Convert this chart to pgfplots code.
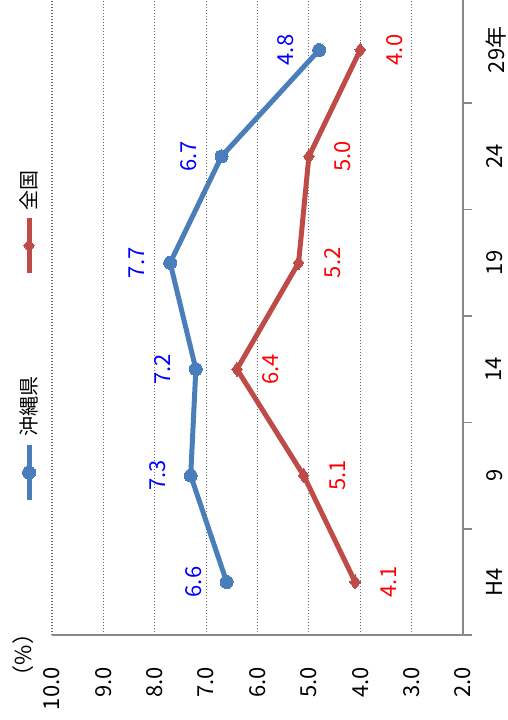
\documentclass[border=0pt]{standalone}
\usepackage{fontspec}
\setmainfont{Noto Sans CJK JP}
\usepackage{pgfplots}
\pgfplotsset{compat=1.18}
\definecolor{okiblue}{RGB}{74,126,187}
\definecolor{zenred}{RGB}{190,75,72}
\definecolor{axgray}{RGB}{137,137,137}
\definecolor{grdgray}{RGB}{105,105,105}
% legend entries drawn upright: line + marker, label above it
\pgfplotsset{
    okilegend/.style={legend image code/.code={
        \path[draw=none, fill=none] (-12pt,-27.5pt) rectangle (12pt,147.5pt);
        \draw[mark repeat=2, mark phase=2, ##1] plot coordinates {(0pt,-27.5pt) (0pt,0pt) (0pt,27.5pt)};
        \node[draw=none, fill=none, rotate=90, inner sep=0pt, text=black, font=\fontsize{20}{24}\selectfont] at (0pt,65.5pt) {沖縄県};
    }},
    zenlegend/.style={legend image code/.code={
        \path[draw=none, fill=none] (-12pt,-79.5pt) rectangle (12pt,77.5pt);
        \draw[mark repeat=2, mark phase=2, ##1] plot coordinates {(0pt,-27.5pt) (0pt,0pt) (0pt,27.5pt)};
        \node[draw=none, fill=none, rotate=90, inner sep=0pt, text=black, font=\fontsize{20}{24}\selectfont] at (0pt,55pt) {全国};
    }},
}
\begin{document}
\begin{tikzpicture}[font=\fontsize{22}{26}\selectfont]
\begin{axis}[
    at={(52pt,84.8pt)}, anchor=south west,
    scale only axis, width=411pt, height=638.4pt,
    x dir=reverse,
    xmin=2, xmax=10, ymin=-0.5, ymax=5.5,
    axis x line*=bottom, axis y line*=right,
    axis line style={axgray, line width=1.5pt},
    xtick={2,3,4,5,6,7,8,9,10},
    xtick style={draw=none},
    xticklabel style={yshift=-32pt, rotate=90, anchor=east, inner sep=0pt},
    /pgf/number format/fixed,
    /pgf/number format/fixed zerofill,
    /pgf/number format/precision=1,
    /pgf/number format/assume math mode=true,
    xmajorgrids,
    grid style={grdgray, line width=1.2pt, dash pattern=on 1.2pt off 1.8pt},
    ytick={0,1,2,3,4,5},
    yticklabels={H4,9,14,19,24,29年},
    minor ytick={-0.5,0.5,1.5,2.5,3.5,4.5,5.5},
    major tick length=0pt, minor tick length=9pt, tick align=outside,
    ytick style={axgray, line width=1.5pt},
    yticklabel style={xshift=23pt, rotate=90, anchor=north, inner sep=0pt},
    point meta=x,
    legend style={at={(axis cs:10.68,3.891)}, anchor=north west,
        draw=none, fill=none, inner sep=0pt, outer sep=0pt, row sep=0pt,
        nodes={inner sep=0pt}},
    legend columns=1,
    reverse legend,
]
\addplot[okiblue, line width=5pt, mark=*, mark size=6.5pt,
    mark options={solid, line width=0pt},
    nodes near coords,
    every node near coord/.append style={text=blue, xshift=-25pt, rotate=90, anchor=south, inner sep=0pt},
    okilegend]
coordinates {(6.6,0) (7.3,1) (7.2,2) (7.7,3) (6.7,4) (4.8,5)};
\addlegendentry{}
\addplot[zenred, line width=5pt, mark=diamond*, mark size=7pt,
    mark options={solid, line width=0pt},
    nodes near coords,
    every node near coord/.append style={text=red, xshift=26pt, rotate=90, anchor=north, inner sep=0pt},
    zenlegend]
coordinates {(4.1,0) (5.1,1) (6.4,2) (5.2,3) (5.0,4) (4.0,5)};
\addlegendentry{}
\end{axis}
\node[rotate=90] at (23pt,65pt) {（\%）};
\pgfresetboundingbox
\path[use as bounding box] (0,0) rectangle (507pt,720pt);
\end{tikzpicture}
\end{document}
